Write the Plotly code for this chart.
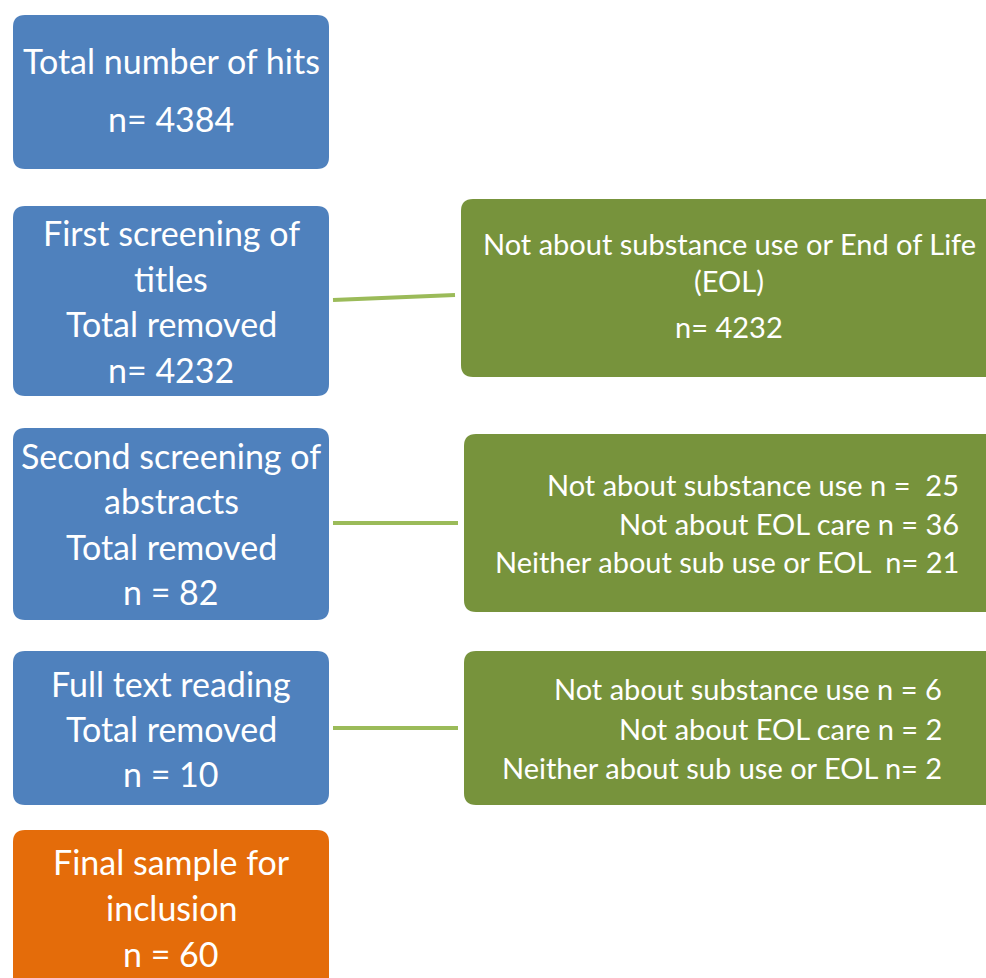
import plotly.graph_objects as go

W, H = 986, 978

# Main flow boxes (left column)
main_labels = [
    ["Total number of hits", "n= 4384"],
    ["First screening of", "titles", "Total removed", "n= 4232"],
    ["Second screening of", "abstracts", "Total removed", "n = 82"],
    ["Full text reading", "Total removed", "n = 10"],
    ["Final sample for", "inclusion", "n = 60"],
]
main_colors = ["#4f81bd", "#4f81bd", "#4f81bd", "#4f81bd", "#e46c0a"]
main_boxes = [(13, 15, 329, 169), (13, 206, 329, 396), (13, 428, 329, 620),
              (13, 651, 329, 805), (13, 830, 329, 990)]
main_line_y = [[60, 118], [232, 278, 323, 369], [455, 500, 546, 591],
               [683, 728, 773], [861, 907, 953]]

# Exclusion boxes (right column)
excl_labels = [
    ["Not about substance use or End of Life", "(EOL)", "n= 4232"],
    ["Not about substance use n =  25", "Not about EOL care n = 36",
     "Neither about sub use or EOL  n= 21"],
    ["Not about substance use n = 6", "Not about EOL care n = 2",
     "Neither about sub use or EOL n= 2"],
]
excl_boxes = [(461, 199, 1000, 377), (464, 434, 1000, 612), (464, 651, 1000, 805)]
excl_line_y = [[243, 280, 326], [484, 523, 561], [688, 728, 767]]
excl_align = ["center", "right", "right"]
excl_right = [None, 961, 944]
excl_center = [729, None, None]

connectors = [((333, 300), (455, 295)), ((333, 523), (458, 523)), ((333, 728), (458, 728))]

FONT = "Lato, 'Open Sans', sans-serif"
MAIN_SIZE = 34
EXCL_SIZE = 29


def rrect(x0, y0, x1, y1, r=12):
    return (f"M{x0+r},{y0} L{x1-r},{y0} Q{x1},{y0} {x1},{y0+r} "
            f"L{x1},{y1-r} Q{x1},{y1} {x1-r},{y1} L{x0+r},{y1} "
            f"Q{x0},{y1} {x0},{y1-r} L{x0},{y0+r} Q{x0},{y0} {x0+r},{y0} Z")


fig = go.Figure()
shapes = []
annotations = []

for (a, b) in connectors:
    shapes.append(dict(type="line", x0=a[0], y0=a[1], x1=b[0], y1=b[1],
                       line=dict(color="#9bbb59", width=4), layer="below"))

for box, color, lines, ys in zip(main_boxes, main_colors, main_labels, main_line_y):
    shapes.append(dict(type="path", path=rrect(*box), fillcolor=color,
                       line=dict(width=0), layer="below"))
    cx = (box[0] + box[2]) / 2
    for t, y in zip(lines, ys):
        annotations.append(dict(x=cx, y=y, text=t, showarrow=False,
                                xanchor="center", yanchor="middle",
                                font=dict(family=FONT, size=MAIN_SIZE, color="white")))

for box, lines, ys, al, rx, cxx in zip(excl_boxes, excl_labels, excl_line_y,
                                       excl_align, excl_right, excl_center):
    shapes.append(dict(type="path", path=rrect(*box), fillcolor="#77933c",
                       line=dict(width=0), layer="below"))
    for t, y in zip(lines, ys):
        if al == "center":
            annotations.append(dict(x=cxx, y=y, text=t, showarrow=False,
                                    xanchor="center", yanchor="middle",
                                    font=dict(family=FONT, size=EXCL_SIZE, color="white")))
        else:
            annotations.append(dict(x=rx, y=y, text=t, showarrow=False,
                                    xanchor="right", yanchor="middle",
                                    font=dict(family=FONT, size=EXCL_SIZE, color="white")))

fig.update_layout(
    width=W, height=H,
    margin=dict(l=0, r=0, t=0, b=0),
    paper_bgcolor="white", plot_bgcolor="white",
    xaxis=dict(range=[0, W], visible=False, fixedrange=True),
    yaxis=dict(range=[H, 0], visible=False, fixedrange=True),
    shapes=shapes, annotations=annotations, showlegend=False,
)

fig.write_html("out.html", config={"displayModeBar": False},
               post_script="document.body.style.margin='0';document.body.style.overflow='hidden';")
